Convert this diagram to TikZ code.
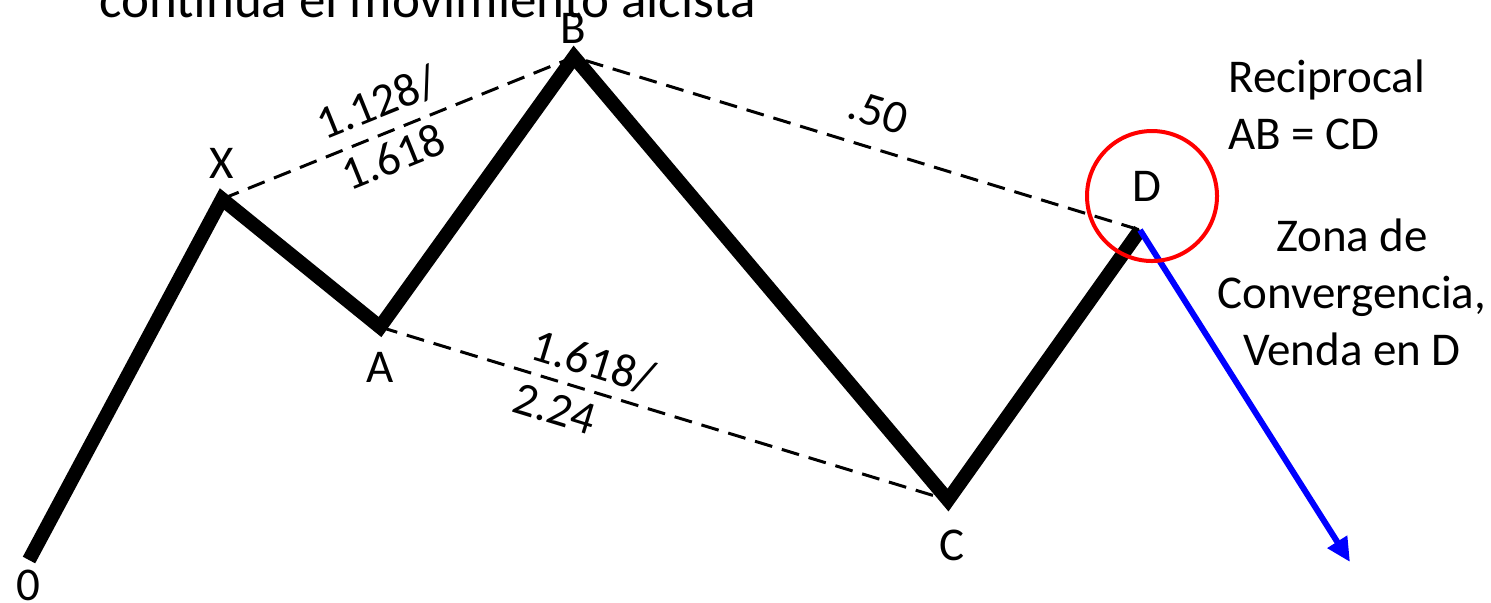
\documentclass[tikz,border=0pt]{standalone}
\usepackage{fontspec}
\setmainfont{Carlito}
\usetikzlibrary{arrows.meta}

\begin{document}
\begin{tikzpicture}[x=0.5pt,y=-0.5pt, every node/.style={font=\fontsize{23.5}{28.5}\selectfont,inner sep=0pt}, wave/.style={line width=7pt,line join=miter}, ratio/.style={line width=1.5pt,dash pattern=on 9pt off 5pt}, zone/.style={draw=red,line width=2pt,circle,minimum size=65pt}, move/.style={draw=blue,line width=3pt,-{Triangle[length=12pt,width=11pt]}}]
\useasboundingbox (0,0) rectangle (1491,602);
\clip (0,0) rectangle (1491,602);
% pattern points
\coordinate (O) at (29,560);
\coordinate (X) at (222,199);
\coordinate (A) at (380,327);
\coordinate (B) at (574,57);
\coordinate (C) at (948,500);
\coordinate (D) at (1140,230);
\coordinate (T) at (1350,562);
\draw[ratio] (X) -- (B) -- (D);
\draw[ratio] (A) -- (C);
\draw[wave] (O) -- (X) -- (A) -- (B) -- (C) -- (D);
\draw[move] (D) -- (T);
\node[zone] (dzone) at (1152,196) {};
% point labels
\node (labO) at (28,585) {0};
\node (labX) at (222,163) {X};
\node (labA) at (380,367) {A};
\node (labB) at (573,28) {B};
\node (labC) at (952,545) {C};
\node (labD) at (1147,186) {D};
% ratio labels
\node[rotate=22] (xb1) at (377,103) {1.128/};
\node[rotate=22] (xb2) at (393,157) {1.618};
\node[rotate=-17] (bd) at (878,112) {.50};
\node[rotate=-17] (ac1) at (593,362) {1.618/};
\node[rotate=-17] (ac2) at (555,409) {2.24};
% notes
\node[anchor=base west,font=\fontsize{26.5}{32}\selectfont] (title) at (99,17) {continua el movimiento alcista};
\node[anchor=west,align=left] (recip) at (1228,105) {Reciprocal\\AB = CD};
\node[align=center] (conv) at (1352,292) {Zona de\\Convergencia,\\Venda en D};
\end{tikzpicture}
\end{document}
